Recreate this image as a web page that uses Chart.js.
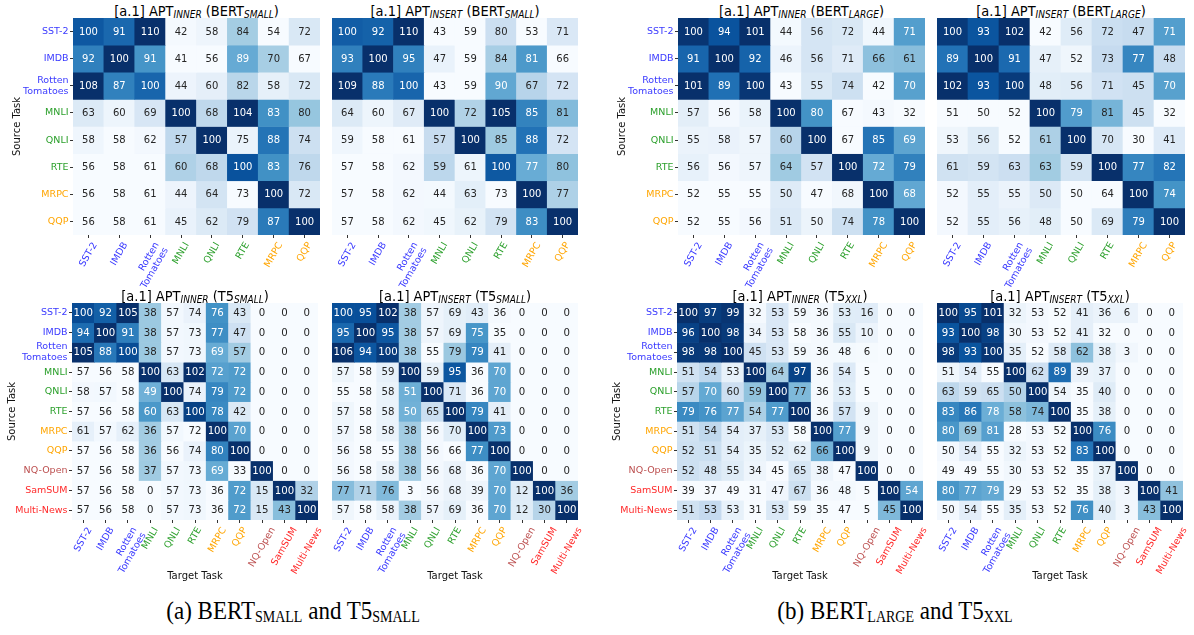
<!DOCTYPE html>
<html>
<head>
<meta charset="utf-8">
<script src="https://cdn.jsdelivr.net/npm/chart.js@4.4.1/dist/chart.umd.min.js"></script>
<style>
body { margin: 0; background: #fff; }
#fig { position: relative; width: 1194px; height: 635px; overflow: hidden; font-family: "DejaVu Sans", sans-serif; }
#fig canvas { position: absolute; }
.ttl { position: absolute; transform: translateX(-50%) scaleY(1.1); transform-origin: 50% 80%; white-space: nowrap; font-size: 13px; line-height: 15px; color: #000; }
.ttl sub { font-size: 9px; font-style: italic; vertical-align: -2px; line-height: 0; }
.cap { position: absolute; transform: translateX(-50%) scaleY(1.12); transform-origin: 50% 80%; white-space: nowrap; font-family: "Liberation Serif", serif; font-size: 23px; line-height: 26px; color: #000; }
.cap sub { font-size: 14px; vertical-align: -3px; line-height: 0; }
</style>
</head>
<body>
<div id="fig"></div>
<script>
// task names (rows = source task, columns = target task)
var bertTasks = ['SST-2', 'IMDB', ['Rotten', 'Tomatoes'], 'MNLI', 'QNLI', 'RTE', 'MRPC', 'QQP'];
var t5Tasks = bertTasks.concat(['NQ-Open', 'SamSUM', 'Multi-News']);
var bertTaskColors = ['#3a3aff', '#3a3aff', '#3a3aff', '#2ca02c', '#2ca02c', '#2ca02c', '#ffa500', '#ffa500'];
var t5TaskColors = bertTaskColors.concat(['#bc4f4f', '#ff2a2a', '#ff2a2a']);

// relative performance (%), one row per source task
var bertSmallInner = [
    [100, 91, 110, 42, 58, 84, 54, 72],
    [92, 100, 91, 41, 56, 89, 70, 67],
    [108, 87, 100, 44, 60, 82, 58, 72],
    [63, 60, 69, 100, 68, 104, 83, 80],
    [58, 58, 62, 57, 100, 75, 88, 74],
    [56, 58, 61, 60, 68, 100, 83, 76],
    [56, 58, 61, 44, 64, 73, 100, 72],
    [56, 58, 61, 45, 62, 79, 87, 100]
];
var bertSmallInsert = [
    [100, 92, 110, 43, 59, 80, 53, 71],
    [93, 100, 95, 47, 59, 84, 81, 66],
    [109, 88, 100, 43, 59, 90, 67, 72],
    [64, 60, 67, 100, 72, 105, 85, 81],
    [59, 58, 61, 57, 100, 85, 88, 72],
    [57, 58, 62, 59, 61, 100, 77, 80],
    [57, 58, 62, 44, 63, 73, 100, 77],
    [57, 58, 62, 45, 62, 79, 83, 100]
];
var bertLargeInner = [
    [100, 94, 101, 44, 56, 72, 44, 71],
    [91, 100, 92, 46, 56, 71, 66, 61],
    [101, 89, 100, 43, 55, 74, 42, 70],
    [57, 56, 58, 100, 80, 67, 43, 32],
    [55, 58, 57, 60, 100, 67, 85, 69],
    [56, 56, 57, 64, 57, 100, 72, 79],
    [52, 55, 55, 50, 47, 68, 100, 68],
    [52, 55, 56, 51, 50, 74, 78, 100]
];
var bertLargeInsert = [
    [100, 93, 102, 42, 56, 72, 47, 71],
    [89, 100, 91, 47, 52, 73, 77, 48],
    [102, 93, 100, 48, 56, 71, 45, 70],
    [51, 50, 52, 100, 79, 81, 45, 32],
    [53, 56, 52, 61, 100, 70, 30, 41],
    [61, 59, 63, 63, 59, 100, 77, 82],
    [52, 55, 55, 50, 50, 64, 100, 74],
    [52, 55, 56, 48, 50, 69, 79, 100]
];
var t5SmallInner = [
    [100, 92, 105, 38, 57, 74, 76, 43, 0, 0, 0],
    [94, 100, 91, 38, 57, 73, 77, 47, 0, 0, 0],
    [105, 88, 100, 38, 57, 73, 69, 57, 0, 0, 0],
    [57, 56, 58, 100, 63, 102, 72, 72, 0, 0, 0],
    [58, 57, 58, 49, 100, 74, 79, 72, 0, 0, 0],
    [57, 56, 58, 60, 63, 100, 78, 42, 0, 0, 0],
    [61, 57, 62, 36, 57, 72, 100, 70, 0, 0, 0],
    [57, 56, 58, 36, 56, 74, 80, 100, 0, 0, 0],
    [57, 56, 58, 37, 57, 73, 69, 33, 100, 0, 0],
    [57, 56, 58, 0, 57, 73, 36, 72, 15, 100, 32],
    [57, 56, 58, 0, 57, 73, 36, 72, 15, 43, 100]
];
var t5SmallInsert = [
    [100, 95, 102, 38, 57, 69, 43, 36, 0, 0, 0],
    [95, 100, 95, 38, 57, 69, 75, 35, 0, 0, 0],
    [106, 94, 100, 38, 55, 79, 79, 41, 0, 0, 0],
    [57, 58, 59, 100, 59, 95, 36, 70, 0, 0, 0],
    [55, 58, 58, 51, 100, 71, 36, 70, 0, 0, 0],
    [57, 58, 58, 50, 65, 100, 79, 41, 0, 0, 0],
    [57, 58, 58, 38, 56, 70, 100, 73, 0, 0, 0],
    [56, 58, 55, 38, 56, 66, 77, 100, 0, 0, 0],
    [56, 58, 58, 38, 56, 68, 36, 70, 100, 0, 0],
    [77, 71, 76, 3, 56, 68, 39, 70, 12, 100, 36],
    [57, 58, 58, 38, 57, 69, 36, 70, 12, 30, 100]
];
var t5XxlInner = [
    [100, 97, 99, 32, 53, 59, 36, 53, 16, 0, 0],
    [96, 100, 98, 34, 53, 58, 36, 55, 10, 0, 0],
    [98, 98, 100, 45, 53, 59, 36, 48, 6, 0, 0],
    [51, 54, 53, 100, 64, 97, 36, 54, 5, 0, 0],
    [57, 70, 60, 59, 100, 77, 36, 53, 5, 0, 0],
    [79, 76, 77, 54, 77, 100, 36, 57, 9, 0, 0],
    [51, 54, 54, 37, 53, 58, 100, 77, 9, 0, 0],
    [52, 51, 54, 35, 52, 62, 66, 100, 9, 0, 0],
    [52, 48, 55, 34, 45, 65, 38, 47, 100, 0, 0],
    [39, 37, 49, 31, 47, 67, 36, 48, 5, 100, 54],
    [51, 53, 53, 31, 53, 59, 35, 47, 5, 45, 100]
];
var t5XxlInsert = [
    [100, 95, 101, 32, 53, 52, 41, 36, 6, 0, 0],
    [93, 100, 98, 30, 53, 52, 41, 32, 0, 0, 0],
    [98, 93, 100, 35, 52, 58, 62, 38, 3, 0, 0],
    [51, 54, 55, 100, 62, 89, 39, 37, 0, 0, 0],
    [63, 59, 65, 50, 100, 54, 35, 40, 0, 0, 0],
    [83, 86, 78, 58, 74, 100, 35, 38, 0, 0, 0],
    [80, 69, 81, 28, 53, 52, 100, 76, 0, 0, 0],
    [50, 54, 55, 32, 53, 52, 83, 100, 0, 0, 0],
    [49, 49, 55, 30, 53, 52, 35, 37, 100, 0, 0],
    [80, 77, 79, 29, 53, 52, 35, 38, 3, 100, 41],
    [50, 54, 55, 35, 53, 52, 76, 40, 3, 43, 100]
];

Chart.defaults.font.family = 'DejaVu Sans';

// matplotlib "Blues"
var BLUES = [[247, 251, 255], [222, 235, 247], [198, 219, 239], [158, 202, 225], [107, 174, 214],
    [66, 146, 198], [33, 113, 181], [8, 81, 156], [8, 48, 107]];
function blues(t) {
    t = Math.max(0, Math.min(1, t));
    var p = t * 8, i = Math.min(7, Math.floor(p)), f = p - i;
    return BLUES[i].map(function (c, k) { return Math.round(c + (BLUES[i + 1][k] - c) * f); });
}
function luminance(rgb) {
    var c = rgb.map(function (v) {
        v /= 255;
        return v <= 0.03928 ? v / 12.92 : Math.pow((v + 0.055) / 1.055, 2.4);
    });
    return 0.2126 * c[0] + 0.7152 * c[1] + 0.0722 * c[2];
}

// centre rotated x labels under their tick (like matplotlib ha='center')
var tickShift = {
    id: 'tickShift',
    beforeDraw: function (chart) {
        var sc = chart.scales.x;
        if (!sc || !sc.getLabelItems) return;
        var items = sc.getLabelItems();
        if (items.__shifted) return;
        var ctx = chart.ctx;
        ctx.save();
        items.forEach(function (it) {
            ctx.font = it.font.string;
            var lines = Array.isArray(it.label) ? it.label : [it.label];
            var w = Math.max.apply(null, lines.map(function (s) { return ctx.measureText(s).width; }));
            it.options.translation[0] += 0.25 * w - 0.433 * (lines.length - 1) * it.font.lineHeight;
        });
        ctx.restore();
        items.__shifted = true;
    }
};

var fig = document.getElementById('fig');

function heatmap(p) {
    var n = p.values.length;
    var m = p.values[0].length;
    var yW = p.left ? 70 : 2;
    var padTop = 4, padRight = 8;
    var w = yW + (p.R - p.L) + padRight;
    var h = padTop + (p.B - p.T) + p.xH;

    var title = document.createElement('div');
    title.className = 'ttl';
    title.style.left = ((p.L + p.R) / 2) + 'px';
    title.style.top = (p.T - 14.5) + 'px';
    title.innerHTML = '[a.1] APT<sub>' + p.method + '</sub> (' + p.model + '<sub>' + p.size + '</sub>)';
    fig.appendChild(title);

    var canvas = document.createElement('canvas');
    canvas.width = w;
    canvas.height = h;
    canvas.style.left = (p.L - yW) + 'px';
    canvas.style.top = (p.T - padTop) + 'px';
    canvas.style.width = w + 'px';
    canvas.style.height = h + 'px';
    fig.appendChild(canvas);

    // colour is normalised per target column
    var mins = [], maxs = [];
    for (var j = 0; j < m; j++) {
        var col = p.values.map(function (r) { return r[j]; });
        mins.push(Math.min.apply(null, col));
        maxs.push(Math.max.apply(null, col));
    }
    var fills = [], inks = [];
    p.values.forEach(function (row) {
        var fr = [], ir = [];
        row.forEach(function (v, j) {
            var rgb = blues((v - mins[j]) / ((maxs[j] - mins[j]) || 1));
            fr.push('rgb(' + rgb.join(',') + ')');
            ir.push(luminance(rgb) > 0.408 ? '#262626' : '#ffffff');
        });
        fills.push(fr);
        inks.push(ir);
    });

    var datasets = p.values.map(function (row, r) {
        return {
            data: row.map(function () { return [r - 0.5, r + 0.5]; }),
            backgroundColor: fills[r],
            borderWidth: 0,
            barPercentage: 1,
            categoryPercentage: 1,
            grouped: false
        };
    });

    var cellText = {
        id: 'cellText',
        afterDatasetsDraw: function (chart) {
            var ctx = chart.ctx;
            ctx.save();
            ctx.font = p.fontSize + 'px "DejaVu Sans"';
            ctx.textAlign = 'center';
            ctx.textBaseline = 'middle';
            chart.data.datasets.forEach(function (ds, r) {
                chart.getDatasetMeta(r).data.forEach(function (bar, j) {
                    ctx.fillStyle = inks[r][j];
                    ctx.fillText(String(p.values[r][j]), bar.x, (bar.y + bar.base) / 2 + 0.5);
                });
            });
            ctx.restore();
        }
    };

    var tickFont = { family: 'DejaVu Sans', size: 9.5, lineHeight: 1.12 };
    var axisFont = { family: 'DejaVu Sans', size: 10, lineHeight: 1.2 };

    new Chart(canvas.getContext('2d'), {
        type: 'bar',
        data: { labels: p.tasks, datasets: datasets },
        options: {
            responsive: false,
            animation: false,
            layout: { padding: { left: 0, top: padTop, right: padRight, bottom: 0 } },
            plugins: { legend: { display: false }, tooltip: { enabled: false }, title: { display: false } },
            scales: {
                x: {
                    type: 'category',
                    offset: true,
                    grid: { display: true, offset: false, drawOnChartArea: false, drawTicks: true, tickLength: 3, tickColor: '#333', tickWidth: 1 },
                    border: { display: false },
                    ticks: {
                        autoSkip: false, minRotation: 60, maxRotation: 60, padding: 2.5,
                        color: function (c) { return p.colors[c.index]; },
                        font: tickFont
                    },
                    title: { display: p.bottom, text: 'Target Task', color: '#111', font: axisFont, padding: { top: 0, bottom: 0 } },
                    afterFit: function (s) { s.height = p.xH; s.paddingLeft = 0; s.paddingRight = 0; }
                },
                y: {
                    type: 'linear',
                    reverse: true,
                    min: -0.5,
                    max: n - 0.5,
                    grid: { display: p.left, drawOnChartArea: false, drawTicks: true, tickLength: 3, tickColor: '#333', tickWidth: 1 },
                    border: { display: false },
                    ticks: {
                        display: p.left, autoSkip: false, padding: 1.5,
                        color: function (c) { return p.colors[c.index]; },
                        font: tickFont,
                        callback: function (v) { return p.tasks[v]; }
                    },
                    afterBuildTicks: function (s) {
                        s.ticks = p.tasks.map(function (_, i) { return { value: i }; });
                    },
                    title: { display: p.left, text: 'Source Task', color: '#111', font: axisFont, padding: { top: p.yTitlePad, bottom: 0 } },
                    afterFit: function (s) { s.width = yW; s.paddingTop = 0; s.paddingBottom = 0; }
                }
            }
        },
        plugins: [cellText, tickShift]
    });
}

var top8 = { T: 18, B: 235, xH: 70, bottom: false, fontSize: 10, yTitlePad: 8, tasks: bertTasks, colors: bertTaskColors };
var bot11 = { T: 303, B: 520, xH: 62, bottom: true, fontSize: 10.2, yTitlePad: 4, tasks: t5Tasks, colors: t5TaskColors };
function panel(base, extra) {
    var o = {};
    Object.keys(base).forEach(function (k) { o[k] = base[k]; });
    Object.keys(extra).forEach(function (k) { o[k] = extra[k]; });
    return o;
}

heatmap(panel(top8, { L: 73, R: 320, left: true, values: bertSmallInner, method: 'INNER', model: 'BERT', size: 'SMALL' }));
heatmap(panel(top8, { L: 332, R: 578, left: false, values: bertSmallInsert, method: 'INSERT', model: 'BERT', size: 'SMALL' }));
heatmap(panel(top8, { L: 678, R: 925, left: true, values: bertLargeInner, method: 'INNER', model: 'BERT', size: 'LARGE' }));
heatmap(panel(top8, { L: 937, R: 1185, left: false, values: bertLargeInsert, method: 'INSERT', model: 'BERT', size: 'LARGE' }));
heatmap(panel(bot11, { L: 72, R: 318, left: true, values: t5SmallInner, method: 'INNER', model: 'T5', size: 'SMALL' }));
heatmap(panel(bot11, { L: 332, R: 578, left: false, values: t5SmallInsert, method: 'INSERT', model: 'T5', size: 'SMALL' }));
heatmap(panel(bot11, { L: 677, R: 923, left: true, values: t5XxlInner, method: 'INNER', model: 'T5', size: 'XXL' }));
heatmap(panel(bot11, { L: 937, R: 1183, left: false, values: t5XxlInsert, method: 'INSERT', model: 'T5', size: 'XXL' }));

var captions = [
    { x: 293, html: '(a) BERT<sub>SMALL</sub> and T5<sub>SMALL</sub>' },
    { x: 895, html: '(b) BERT<sub>LARGE</sub> and T5<sub>XXL</sub>' }
];
captions.forEach(function (c) {
    var d = document.createElement('div');
    d.className = 'cap';
    d.style.left = c.x + 'px';
    d.style.top = '599px';
    d.innerHTML = c.html;
    fig.appendChild(d);
});
</script>
</body>
</html>
